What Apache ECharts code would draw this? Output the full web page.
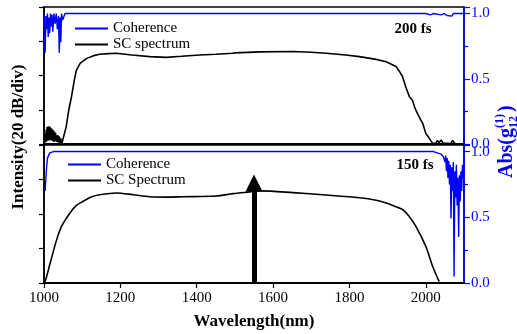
<!DOCTYPE html>
<html lang="en">

<head>
    <meta charset="UTF-8">
    <title>SC spectrum and coherence</title>
    <script src="https://cdn.jsdelivr.net/npm/echarts@6/dist/echarts.min.js"></script>
    <style>
        html, body { margin: 0; padding: 0; background: #fff; }
        #main { width: 517px; height: 334px; }
    </style>
</head>

<body>
    <div id="main"></div>
    <script>
        // 200 fs panel - SC spectrum (in divisions, 20 dB/div)
        var wlScTop = [1000, 1004, 1005, 1006, 1007, 1008, 1009, 1010, 1011, 1012, 1013, 1014, 1015, 1016, 1017, 1018, 1019, 1020, 1021, 1022, 1023, 1024, 1025, 1026,
            1027, 1028, 1029, 1030, 1032, 1034, 1036, 1038, 1040, 1042, 1044, 1047, 1050,
            1058, 1065, 1072, 1080, 1085, 1095, 1112, 1130, 1146, 1170, 1190, 1230, 1277, 1321, 1360, 1408, 1450, 1494, 1500, 1505,
            1565, 1652, 1700, 1739, 1790, 1826, 1870, 1896, 1922, 1932, 1939, 1948, 1957, 1965, 1970, 1974, 1980, 1986, 1992, 1996,
            2000, 2004, 2009, 2013, 2017, 2022, 2026, 2030, 2035, 2040, 2045, 2050, 2055, 2060, 2065, 2070, 2075, 2080];
        var scTop = [0.0, 0.3, 0.05, 0.42, 0.08, 0.5, 0.1, 0.46, 0.12, 0.52, 0.1, 0.48, 0.15, 0.5, 0.12, 0.46, 0.1, 0.45, 0.12, 0.42, 0.08, 0.4, 0.1, 0.38,
            0.06, 0.35, 0.08, 0.32, 0.3, 0.06, 0.26, 0.04, 0.22, 0.03, 0.16, 0.02, 0.05,
            0.5, 1.0, 1.38, 1.9, 2.16, 2.36, 2.5, 2.58, 2.62, 2.64, 2.65, 2.6, 2.55, 2.53, 2.56, 2.6, 2.62, 2.65, 2.66, 2.69,
            2.69, 2.7, 2.68, 2.65, 2.6, 2.55, 2.47, 2.4, 2.26, 2.1, 1.97, 1.65, 1.38, 1.28, 1.1, 0.99, 0.85, 0.72, 0.6, 0.45,
            0.31, 0.25, 0.21, 0.1, 0.03, 0.08, 0.02, 0.1, 0.04, 0.12, 0.03, 0.06, 0.02, 0.05, 0.01, 0.1, 0.02, 0.0];

        // 200 fs panel - coherence
        var wlCohTop = [1000, 1003, 1005, 1007, 1009, 1011, 1013, 1015, 1017, 1019, 1021, 1023, 1026, 1029, 1032, 1035, 1038, 1040, 1042, 1044, 1046, 1049, 1055,
            1500, 2000, 2012, 2016, 2020, 2040, 2048, 2055, 2060, 2068, 2072, 2100];
        var cohTop = [1.0, 0.70, 0.98, 0.88, 1.0, 0.82, 0.97, 0.85, 1.0, 0.9, 0.99, 0.86, 1.0, 0.92, 1.0, 0.88, 0.98, 0.70, 0.97, 0.78, 1.0, 0.95, 1.0,
            1.0, 1.0, 0.99, 0.98, 1.0, 0.99, 1.0, 0.985, 1.0, 0.98, 1.0, 1.0];

        // 150 fs panel - SC spectrum
        var wlScBot = [1000, 1003, 1016, 1033, 1046, 1068, 1085, 1103, 1125, 1146, 1190, 1233, 1277, 1320, 1364, 1451, 1495, 1539, 1565,
            1652, 1739, 1826, 1870, 1896, 1920, 1939, 1955, 1974, 2000, 2018, 2035];
        var scBot = [0.0, 0.04, 0.57, 1.25, 1.64, 2.03, 2.25, 2.37, 2.5, 2.56, 2.61, 2.56, 2.5, 2.49, 2.5, 2.52, 2.59, 2.64, 2.67,
            2.62, 2.55, 2.47, 2.4, 2.32, 2.22, 2.13, 1.95, 1.64, 1.06, 0.48, 0.04];

        // 150 fs panel - coherence
        var wlCohBot = [1003, 1006, 1009, 1015, 1025, 1500, 2000, 2020, 2030, 2040, 2046, 2050, 2052, 2054, 2056, 2058, 2060, 2062, 2064, 2066, 2068,
            2070, 2072, 2074, 2076, 2078, 2080, 2082, 2084, 2086, 2088, 2090, 2092, 2094, 2096, 2098, 2100];
        var cohBot = [0.70, 0.85, 0.95, 0.99, 1.0, 1.0, 1.0, 1.0, 0.99, 0.98, 0.96, 0.92, 0.97, 0.85, 0.95, 0.8, 0.93, 0.75, 0.9, 0.49, 0.88,
            0.7, 0.92, 0.05, 0.85, 0.65, 0.9, 0.59, 0.8, 0.35, 0.82, 0.62, 0.85, 0.7, 0.9, 0.8, 0.95];

        // arrow at pump wavelength
        var arrowWl = 1550;
        var arrowTop = 2.9;

        var cohTicks = [0.0, 0.5, 1.0];

        function pairs(xs, ys) {
            var out = [];
            for (var i = 0; i < xs.length; i++) out.push([xs[i], ys[i]]);
            return out;
        }

        var serif = '"Liberation Serif", "Times New Roman", serif';
        var blue = '#0000ff';

        var myChart = echarts.init(document.getElementById('main'));

        function xAxisOf(idx, labels) {
            return {
                type: 'value',
                gridIndex: idx,
                min: 1000,
                max: 2100,
                interval: 200,
                axisLine: { lineStyle: { color: '#000', width: 2 } },
                axisTick: { show: labels, length: 5, lineStyle: { color: '#000', width: 1.2 } },
                axisLabel: {
                    show: labels, color: '#000', fontFamily: serif, fontSize: 15, margin: 8,
                    showMaxLabel: false,
                    formatter: function (v) { return String(v); }
                },
                splitLine: { show: false }
            };
        }

        function leftAxisOf(idx) {
            return {
                type: 'value',
                gridIndex: idx,
                position: 'left',
                min: 0,
                max: 4,
                interval: 1,
                axisLine: { show: true, lineStyle: { color: '#000', width: 1.5 } },
                axisTick: { show: true, length: 5, lineStyle: { color: '#000', width: 1.2 } },
                axisLabel: { show: false },
                splitLine: { show: false }
            };
        }

        function rightAxisOf(idx) {
            return {
                type: 'value',
                gridIndex: idx,
                position: 'right',
                min: 0,
                max: 1.05,
                interval: 0.5,
                axisLine: { show: true, lineStyle: { color: blue, width: 1.5 } },
                axisTick: { show: true, length: 6, lineStyle: { color: blue, width: 1.2 } },
                minorTick: { show: true, splitNumber: 2, length: 4, lineStyle: { color: blue, width: 1.2 } },
                axisLabel: {
                    color: blue, fontFamily: serif, fontSize: 15, margin: 7,
                    formatter: function (v) { return cohTicks.indexOf(v) >= 0 ? v.toFixed(1) : ''; }
                },
                splitLine: { show: false }
            };
        }

        var option = {
            animation: false,
            backgroundColor: '#fff',
            grid: [
                { left: 44, top: 7, width: 420, height: 137, show: true, borderColor: '#000', borderWidth: 1.5 },
                { left: 44, top: 145, width: 420, height: 138, show: true, borderColor: '#000', borderWidth: 1.5 }
            ],
            xAxis: [xAxisOf(0, false), xAxisOf(1, true)],
            yAxis: [leftAxisOf(0), rightAxisOf(0), leftAxisOf(1), rightAxisOf(1)],
            legend: [{
                data: ['Coherence', 'SC spectrum'],
                orient: 'vertical',
                left: 75,
                top: 21,
                padding: 0,
                itemWidth: 33,
                itemHeight: 2,
                itemGap: 1,
                icon: 'rect',
                textStyle: { fontFamily: serif, fontSize: 15, color: '#000' }
            }, {
                data: ['Coherence', 'SC Spectrum'],
                orient: 'vertical',
                left: 68,
                top: 157,
                padding: 0,
                itemWidth: 33,
                itemHeight: 2,
                itemGap: 1,
                icon: 'rect',
                textStyle: { fontFamily: serif, fontSize: 15, color: '#000' }
            }],
            series: [{
                name: 'SC spectrum',
                type: 'line',
                xAxisIndex: 0,
                yAxisIndex: 0,
                data: pairs(wlScTop, scTop),
                symbol: 'none',
                color: '#000',
                lineStyle: { color: '#000', width: 1.6 }
            }, {
                name: 'Coherence',
                type: 'line',
                xAxisIndex: 0,
                yAxisIndex: 1,
                data: pairs(wlCohTop, cohTop),
                symbol: 'none',
                color: blue,
                lineStyle: { color: blue, width: 1.4 }
            }, {
                name: 'SC Spectrum',
                type: 'line',
                xAxisIndex: 1,
                yAxisIndex: 2,
                data: pairs(wlScBot, scBot),
                symbol: 'none',
                smooth: 0.3,
                color: '#000',
                lineStyle: { color: '#000', width: 1.6 },
                markLine: {
                    silent: true,
                    symbol: ['none', 'triangle'],
                    symbolSize: 17,
                    label: { show: false },
                    lineStyle: { color: '#000', width: 5, type: 'solid' },
                    emphasis: { disabled: true },
                    data: [[{ coord: [arrowWl, 0] }, { coord: [arrowWl, arrowTop] }]]
                }
            }, {
                name: 'Coherence',
                type: 'line',
                xAxisIndex: 1,
                yAxisIndex: 3,
                data: pairs(wlCohBot, cohBot),
                symbol: 'none',
                color: blue,
                lineStyle: { color: blue, width: 1.4 }
            }],
            graphic: [{
                type: 'text',
                x: 19,
                y: 137,
                rotation: Math.PI / 2,
                style: {
                    text: 'Intensity(20 dB/div)',
                    fill: '#000',
                    font: 'bold 17px ' + serif,
                    align: 'center',
                    verticalAlign: 'middle'
                }
            }, {
                type: 'text',
                x: 254,
                y: 322,
                style: {
                    text: 'Wavelength(nm)',
                    fill: '#000',
                    font: 'bold 17px ' + serif,
                    align: 'center',
                    verticalAlign: 'middle'
                }
            }, {
                type: 'text',
                x: 413,
                y: 29,
                style: { text: '200 fs', fill: '#000', font: 'bold 15px ' + serif, align: 'center', verticalAlign: 'middle' }
            }, {
                type: 'text',
                x: 415,
                y: 165,
                style: { text: '150 fs', fill: '#000', font: 'bold 15px ' + serif, align: 'center', verticalAlign: 'middle' }
            }, {
                // Abs(g12^(1)) rotated title, reading bottom to top
                type: 'group',
                x: 507,
                y: 178,
                rotation: Math.PI / 2,
                children: [{
                    type: 'text', x: 0, y: 0,
                    style: { text: 'Abs(g', fill: blue, font: 'bold 20px ' + serif, verticalAlign: 'middle' }
                }, {
                    type: 'text', x: 50, y: -7,
                    style: { text: '(1)', fill: blue, font: 'bold 12px ' + serif, verticalAlign: 'middle' }
                }, {
                    type: 'text', x: 50, y: 7,
                    style: { text: '12', fill: blue, font: 'bold 12px ' + serif, verticalAlign: 'middle' }
                }, {
                    type: 'text', x: 66, y: 0,
                    style: { text: ')', fill: blue, font: 'bold 20px ' + serif, verticalAlign: 'middle' }
                }]
            }]
        };
        myChart.setOption(option);
    </script>
</body>

</html>
